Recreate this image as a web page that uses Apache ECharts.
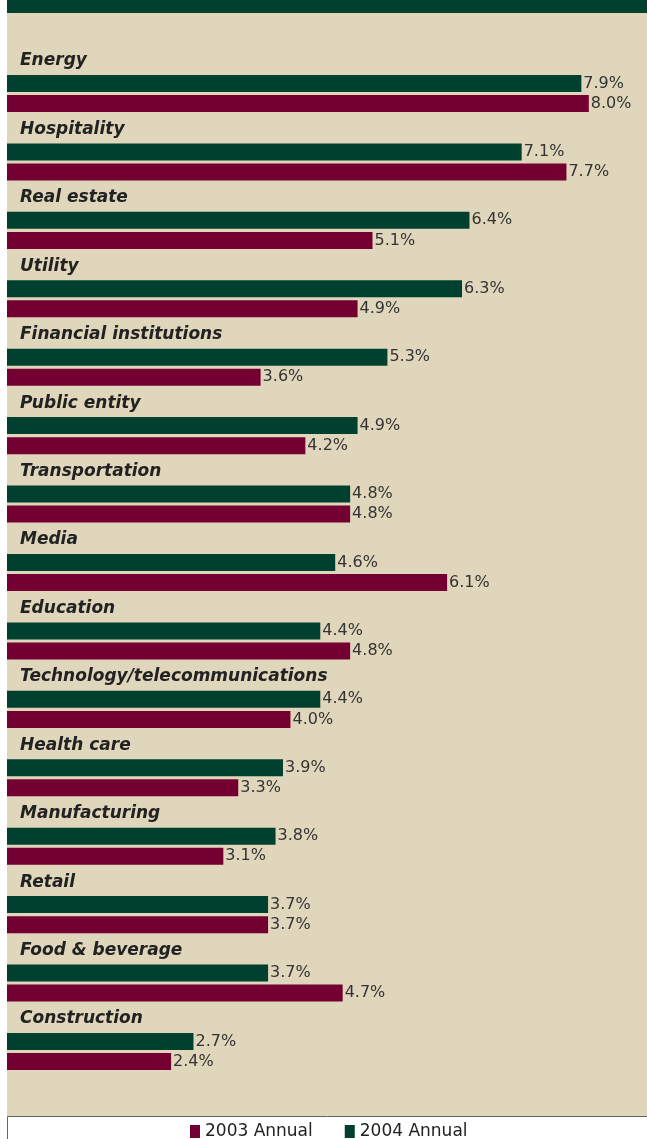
<!DOCTYPE html>
<html>
<head>
  <meta charset="utf-8">
  <title>Industry rates</title>
  <script src="https://cdn.jsdelivr.net/npm/echarts@6/dist/echarts.min.js"></script>
  <style>
    html, body { margin: 0; padding: 0; background: #fff; }
    #main { width: 647px; height: 1139px; }
  </style>
</head>
<body>
  <div id="main"></div>
  <script>
    var industries = ['Energy', 'Hospitality', 'Real estate', 'Utility', 'Financial institutions',
      'Public entity', 'Transportation', 'Media', 'Education', 'Technology/telecommunications',
      'Health care', 'Manufacturing', 'Retail', 'Food & beverage', 'Construction'];
    var annual2004 = [7.9, 7.1, 6.4, 6.3, 5.3, 4.9, 4.8, 4.6, 4.4, 4.4, 3.9, 3.8, 3.7, 3.7, 2.7];
    var annual2003 = [8.0, 7.7, 5.1, 4.9, 3.6, 4.2, 4.8, 6.1, 4.8, 4.0, 3.3, 3.1, 3.7, 4.7, 2.4];

    var colors = { green: '#00402e', maroon: '#730030', tan: '#e0d6bb' };

    var myChart = echarts.init(document.getElementById('main'));

    var valueLabel = {
      show: true,
      position: 'right',
      distance: 2,
      color: '#333',
      fontSize: 16,
      fontFamily: 'DejaVu Sans',
      formatter: function (p) { return p.value.toFixed(1) + '%'; }
    };

    var option = {
      animation: false,
      graphic: [
        { type: 'rect', z: -10, shape: { x: 7, y: 0, width: 640, height: 1116 }, style: { fill: colors.tan } },
        { type: 'rect', z: -9, shape: { x: 7, y: 0, width: 640, height: 13 }, style: { fill: colors.green } },
        { type: 'rect', z: -9, shape: { x: 7.5, y: 1116.5, width: 645, height: 30 }, style: { fill: '#fff', stroke: '#666', lineWidth: 1 } }
      ],
      legend: {
        data: ['2003 Annual', '2004 Annual'],
        top: 1118,
        left: 185,
        icon: 'rect',
        itemWidth: 10,
        itemHeight: 13,
        itemGap: 32,
        textStyle: { fontSize: 17, color: '#222', fontFamily: 'DejaVu Sans' }
      },
      grid: { left: 7, right: 0, top: 59.3, bottom: 53.3 },
      xAxis: {
        type: 'value',
        min: 0.2,
        max: 8.78,
        show: false
      },
      yAxis: {
        type: 'category',
        data: industries,
        inverse: true,
        axisLine: { show: false },
        axisTick: { show: false },
        splitLine: { show: false },
        axisLabel: {
          inside: true,
          margin: 13,
          verticalAlign: 'bottom',
          padding: [0, 0, 24, 0],
          fontSize: 17,
          fontStyle: 'italic',
          fontWeight: 'bold',
          fontFamily: 'DejaVu Sans',
          color: '#222'
        }
      },
      series: [
        {
          name: '2004 Annual',
          type: 'bar',
          barWidth: 17,
          barGap: '18%',
          itemStyle: { color: colors.green },
          label: valueLabel,
          data: annual2004
        },
        {
          name: '2003 Annual',
          type: 'bar',
          barWidth: 17,
          barGap: '18%',
          itemStyle: { color: colors.maroon },
          label: valueLabel,
          data: annual2003
        }
      ]
    };

    myChart.setOption(option);
  </script>
</body>
</html>
